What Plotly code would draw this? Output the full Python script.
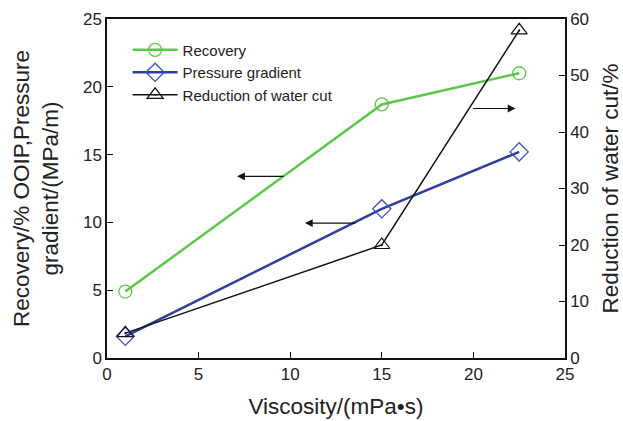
import plotly.graph_objects as go

viscosity = [1, 15, 22.5]
recovery = [4.9, 18.7, 21.0]
pressure_gradient = [1.6, 11.0, 15.2]
water_cut_reduction = [4.4, 20.0, 58.0]

FONT = "Liberation Sans, Arial, sans-serif"
TITLE_SIZE = 22.5

fig = go.Figure()
fig.add_trace(go.Scatter(
    x=viscosity, y=recovery, name="Recovery", mode="lines+markers",
    line=dict(color="#5cc84a", width=2.5),
    marker=dict(symbol="circle-open", size=13, color="#5cc84a", line=dict(width=1.3)),
))
fig.add_trace(go.Scatter(
    x=viscosity, y=pressure_gradient, name="Pressure gradient", mode="lines+markers",
    line=dict(color="#2e3e9e", width=2.5),
    marker=dict(symbol="diamond-open", size=14, color="#3a50c8", line=dict(width=1.3)),
))
fig.add_trace(go.Scatter(
    x=viscosity, y=water_cut_reduction, name="Reduction of water cut", mode="lines+markers",
    yaxis="y2",
    line=dict(color="#111111", width=1.5),
    marker=dict(symbol="triangle-up-open-dot", size=14, color="#111111", line=dict(width=1.2)),
))

def arrow(xh, yh, xt, yt, yref="y"):
    fig.add_annotation(
        x=xh, y=yh, ax=xt, ay=yt, xref="x", yref=yref, axref="x", ayref=yref,
        showarrow=True, arrowhead=2, arrowsize=1.3, arrowwidth=1.2,
        arrowcolor="#111111", text="",
    )

arrow(7.1, 13.4, 9.72, 13.4)
arrow(10.8, 9.95, 13.65, 9.95)
arrow(22.3, 18.4, 19.9, 18.4)

axis_common = dict(
    showline=True, linecolor="#111111", linewidth=1.5,
    ticks="inside", ticklen=6, tickwidth=1.2, tickcolor="#111111",
    showgrid=False, zeroline=False, automargin=False,
    tickfont=dict(family=FONT, size=17, color="#222222"),
)

fig.update_layout(
    width=623, height=421,
    margin=dict(l=107, r=58, t=19, b=63),
    paper_bgcolor="white", plot_bgcolor="white",
    font=dict(family=FONT, color="#222222"),
    showlegend=True,
    legend=dict(
        x=0.045, y=0.957, xanchor="left", yanchor="top",
        bgcolor="rgba(0,0,0,0)", font=dict(family=FONT, size=15, color="#222222"),
        itemwidth=45, tracegroupgap=0,
    ),
    xaxis=dict(
        range=[0, 25], dtick=5, mirror=True,
        title=dict(text="Viscosity/(mPa•s)", font=dict(family=FONT, size=TITLE_SIZE), standoff=15),
        **axis_common,
    ),
    yaxis=dict(
        range=[0, 25], dtick=5,
        title=dict(text="Recovery/% OOIP,Pressure<br>gradient/(MPa/m)",
                   font=dict(family=FONT, size=TITLE_SIZE), standoff=18),
        **axis_common,
    ),
    yaxis2=dict(
        range=[0, 60], dtick=10, overlaying="y", side="right",
        title=dict(text="Reduction of water cut/%", font=dict(family=FONT, size=TITLE_SIZE), standoff=18),
        **axis_common,
    ),
)

fig.write_html("out.html")
